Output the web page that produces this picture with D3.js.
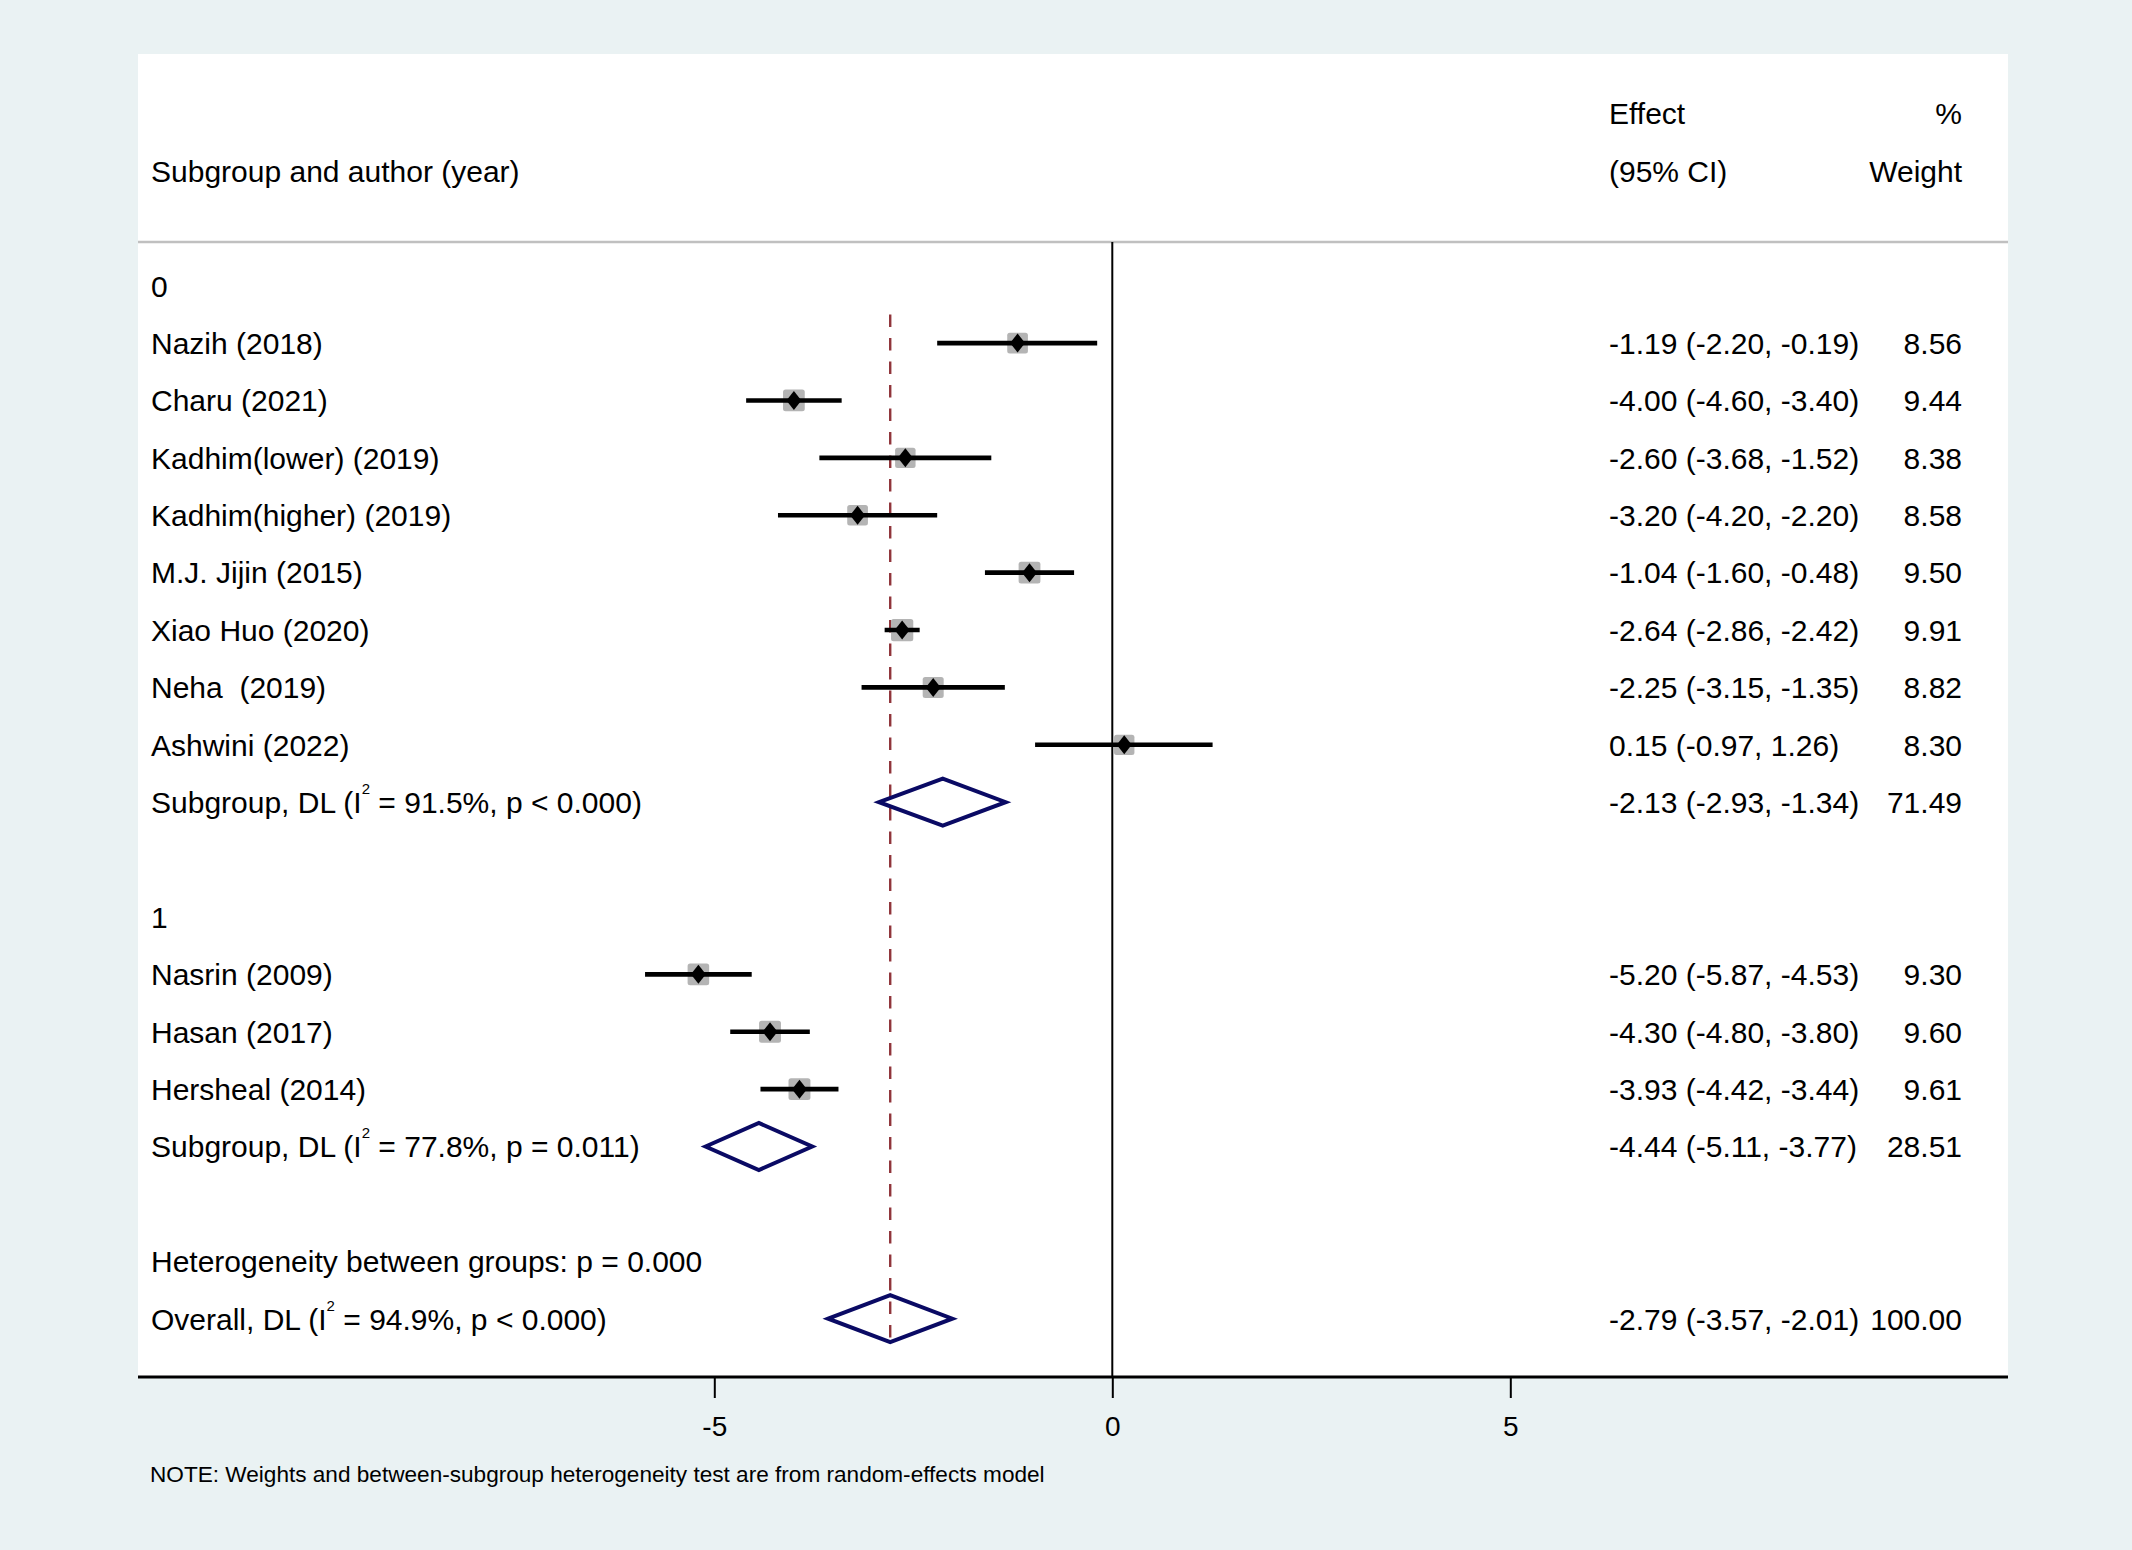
<!DOCTYPE html>
<html>
<head>
<meta charset="utf-8">
<script src="https://cdn.jsdelivr.net/npm/d3@7"></script>
<style>
  body { margin: 0; background: #eaf2f3; }
  text { font-family: "Liberation Sans", Arial, sans-serif; fill: #000; white-space: pre; }
</style>
</head>
<body>
<svg id="chart" width="2132" height="1550"></svg>
<script>
// study level data
const studyNames = ["Nazih (2018)", "Charu (2021)", "Kadhim(lower) (2019)", "Kadhim(higher) (2019)",
  "M.J. Jijin (2015)", "Xiao Huo (2020)", "Neha  (2019)", "Ashwini (2022)",
  "Nasrin (2009)", "Hasan (2017)", "Hersheal (2014)"];
const studyGroup = [0, 0, 0, 0, 0, 0, 0, 0, 1, 1, 1];
const effect = [-1.19, -4.00, -2.60, -3.20, -1.04, -2.64, -2.25, 0.15, -5.20, -4.30, -3.93];
const ciLow = [-2.20, -4.60, -3.68, -4.20, -1.60, -2.86, -3.15, -0.97, -5.87, -4.80, -4.42];
const ciHigh = [-0.19, -3.40, -1.52, -2.20, -0.48, -2.42, -1.35, 1.26, -4.53, -3.80, -3.44];
const weight = [8.56, 9.44, 8.38, 8.58, 9.50, 9.91, 8.82, 8.30, 9.30, 9.60, 9.61];

// subgroup pooled estimates
const groupLabels = ["0", "1"];
const groupI2 = ["91.5%", "77.8%"];
const groupP = ["p < 0.000", "p = 0.011"];
const groupEffect = [-2.13, -4.44];
const groupLow = [-2.93, -5.11];
const groupHigh = [-1.34, -3.77];
const groupWeight = [71.49, 28.51];

// overall estimate
const overallEffect = -2.79, overallLow = -3.57, overallHigh = -2.01, overallWeight = 100.00;
const overallI2 = "94.9%", overallP = "p < 0.000";
const heterogeneityText = "Heterogeneity between groups: p = 0.000";
const noteText = "NOTE: Weights and between-subgroup heterogeneity test are from random-effects model";
const xTicks = [-5, 0, 5];

const svg = d3.select("#chart");
const panel = {left: 138, top: 54, right: 2008, bottom: 1377};
const fs = 30;

const x = d3.scaleLinear().domain([-5, 5]).range([714.3, 1510.3]);
const y = d3.scaleLinear().domain([0, 18]).range([285.7, 1318.7]);

const colEffect = 1609, colWeight = 1962, colLabel = 151;

const fmt = v => v.toFixed(2);
const ciText = (e, l, h) => `${fmt(e)} (${fmt(l)}, ${fmt(h)})`;

// build rows
let rows = [];
let r = 0;
groupLabels.forEach((g, gi) => {
  rows.push({type: "group", row: r++, label: g});
  studyNames.forEach((name, i) => {
    if (studyGroup[i] !== gi) return;
    rows.push({type: "study", row: r++, label: name, e: effect[i], lo: ciLow[i], hi: ciHigh[i], w: weight[i]});
  });
  rows.push({type: "pooled", row: r++, label: "Subgroup, DL (I", i2: groupI2[gi], p: groupP[gi],
    e: groupEffect[gi], lo: groupLow[gi], hi: groupHigh[gi], w: groupWeight[gi]});
  r++;
});
rows.push({type: "text", row: r++, label: heterogeneityText});
rows.push({type: "pooled", row: r++, label: "Overall, DL (I", i2: overallI2, p: overallP,
  e: overallEffect, lo: overallLow, hi: overallHigh, w: overallWeight});

// white plot region
svg.append("rect").attr("x", panel.left).attr("y", panel.top)
  .attr("width", panel.right - panel.left).attr("height", panel.bottom - panel.top)
  .attr("fill", "#ffffff");

// header
svg.append("text").attr("x", colEffect).attr("y", y(-3)).attr("dy", "0.36em").attr("font-size", fs).text("Effect");
svg.append("text").attr("x", colWeight).attr("y", y(-3)).attr("dy", "0.36em").attr("font-size", fs)
  .attr("text-anchor", "end").text("%");
svg.append("text").attr("x", colLabel).attr("y", y(-2)).attr("dy", "0.36em").attr("font-size", fs)
  .text("Subgroup and author (year)");
svg.append("text").attr("x", colEffect).attr("y", y(-2)).attr("dy", "0.36em").attr("font-size", fs).text("(95% CI)");
svg.append("text").attr("x", colWeight).attr("y", y(-2)).attr("dy", "0.36em").attr("font-size", fs)
  .attr("text-anchor", "end").text("Weight");

svg.append("line").attr("x1", panel.left).attr("x2", panel.right).attr("y1", 242).attr("y2", 242)
  .attr("stroke", "#c0c0c0").attr("stroke-width", 2.6);

// null line
svg.append("line").attr("x1", x(0)).attr("x2", x(0)).attr("y1", 242).attr("y2", panel.bottom)
  .attr("stroke", "#000").attr("stroke-width", 2);

// overall effect dashed line
svg.append("line").attr("x1", x(overallEffect)).attr("x2", x(overallEffect))
  .attr("y1", y(0.5)).attr("y2", y(18.5))
  .attr("stroke", "#90353b").attr("stroke-width", 2.4).attr("stroke-dasharray", "12.5,11");

// labels
rows.forEach(d => {
  const t = svg.append("text").attr("x", colLabel).attr("y", y(d.row)).attr("dy", "0.36em").attr("font-size", fs);
  if (d.type === "pooled") {
    t.append("tspan").text(d.label);
    t.append("tspan").attr("font-size", 15).attr("dy", -19).text("2");
    t.append("tspan").attr("dy", 19).text(` = ${d.i2}, ${d.p})`);
  } else {
    t.text(d.label);
  }
  if (d.e !== undefined) {
    svg.append("text").attr("x", colEffect).attr("y", y(d.row)).attr("dy", "0.36em").attr("font-size", fs)
      .text(ciText(d.e, d.lo, d.hi));
    svg.append("text").attr("x", colWeight).attr("y", y(d.row)).attr("dy", "0.36em").attr("font-size", fs)
      .attr("text-anchor", "end").text(fmt(d.w));
  }
});

// study markers
const studies = rows.filter(d => d.type === "study");
const boxK = 7.07;
svg.append("g").selectAll("rect").data(studies).join("rect")
  .attr("x", d => x(d.e) - boxK * Math.sqrt(d.w) / 2)
  .attr("y", d => y(d.row) - boxK * Math.sqrt(d.w) / 2)
  .attr("width", d => boxK * Math.sqrt(d.w))
  .attr("height", d => boxK * Math.sqrt(d.w))
  .attr("rx", 2.5).attr("fill", "#b4b4b4");
svg.append("g").selectAll("line").data(studies).join("line")
  .attr("x1", d => x(d.lo)).attr("x2", d => x(d.hi))
  .attr("y1", d => y(d.row)).attr("y2", d => y(d.row))
  .attr("stroke", "#000").attr("stroke-width", 4.6);
svg.append("g").selectAll("path").data(studies).join("path")
  .attr("d", d => {
    const cx = x(d.e), cy = y(d.row);
    return `M${cx - 7.5},${cy}L${cx},${cy - 9.5}L${cx + 7.5},${cy}L${cx},${cy + 9.5}Z`;
  })
  .attr("fill", "#000");

// pooled diamonds
const pooled = rows.filter(d => d.type === "pooled");
svg.append("g").selectAll("path").data(pooled).join("path")
  .attr("d", d => {
    const cy = y(d.row), h = 23.5;
    return `M${x(d.lo)},${cy}L${x(d.e)},${cy - h}L${x(d.hi)},${cy}L${x(d.e)},${cy + h}Z`;
  })
  .attr("fill", "none").attr("stroke", "#0a0a64").attr("stroke-width", 4).attr("stroke-linejoin", "miter");

// x axis
svg.append("line").attr("x1", panel.left).attr("x2", panel.right)
  .attr("y1", panel.bottom).attr("y2", panel.bottom)
  .attr("stroke", "#000").attr("stroke-width", 3);
const axis = svg.append("g").attr("transform", `translate(0,${panel.bottom})`)
  .call(d3.axisBottom(x).tickValues(xTicks).tickFormat(d => String(d)).tickSize(21).tickPadding(18).tickSizeOuter(0));
axis.select(".domain").remove();
axis.selectAll(".tick line").attr("stroke", "#000").attr("stroke-width", 2);
axis.selectAll(".tick text").attr("font-size", 28).attr("font-family", null).attr("fill", "#000");

// note
svg.append("text").attr("x", 150).attr("y", 1482).attr("font-size", 22.6).text(noteText);
</script>
</body>
</html>
